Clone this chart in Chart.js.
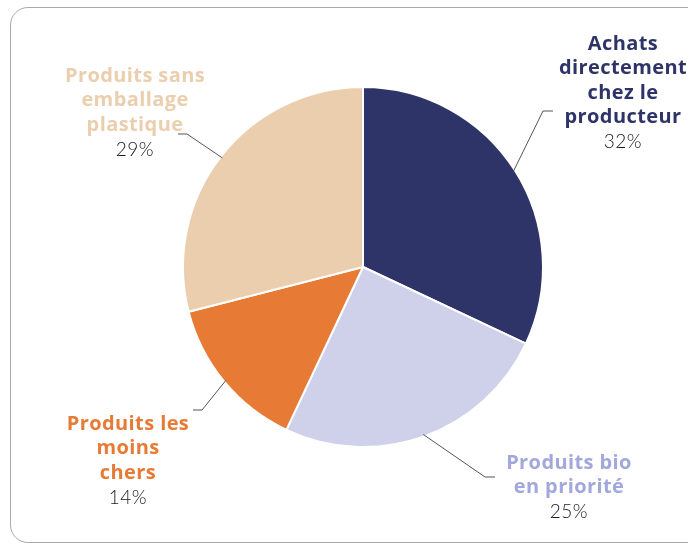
<!DOCTYPE html>
<html>
<head>
<meta charset="utf-8">
<script src="https://cdn.jsdelivr.net/npm/chart.js@4.4.1/dist/chart.umd.min.js"></script>
<style>
  html, body { margin: 0; padding: 0; background: #fff; }
  #wrap { position: relative; width: 688px; height: 545px; overflow: hidden; }
  #card {
    position: absolute; left: 10px; top: 7px; width: 720px; height: 536px;
    border: 1px solid #a9a9a9; border-radius: 18px; box-sizing: border-box;
  }
  canvas { position: absolute; left: 0; top: 0; }
</style>
</head>
<body>
<div id="wrap">
  <div id="card"></div>
  <canvas id="pie" width="688" height="545"></canvas>
</div>
<script>
// données
const categories = [
  ["Achats", "directement", "chez le", "producteur"],
  ["Produits bio", "en priorité"],
  ["Produits les", "moins", "chers"],
  ["Produits sans", "emballage", "plastique"]
];
const valeurs = [32, 25, 14, 29];
const couleurs = ["#2e3468", "#cfd1eb", "#e77b36", "#ebceae"];
const couleursTexte = ["#2e3468", "#a2a7dc", "#e77b36", "#ebceae"];

// emplacement des étiquettes : centre du texte + coude du trait
const etiquettes = [
  { x: 623, y: 44, coude: [543, 111], fin: [553, 111] },
  { x: 569, y: 463, coude: [485, 477], fin: [495, 477] },
  { x: 128, y: 424, coude: [202, 410], fin: [193, 410] },
  { x: 135, y: 76, coude: [187, 134], fin: [178, 134] }
];

const pluginEtiquettes = {
  id: "etiquettes",
  afterDatasetsDraw(chart) {
    const ctx = chart.ctx;
    const arcs = chart.getDatasetMeta(0).data;
    ctx.save();
    arcs.forEach((arc, i) => {
      const e = etiquettes[i];
      const milieu = (arc.startAngle + arc.endAngle) / 2;
      const x0 = arc.x + Math.cos(milieu) * (arc.outerRadius - 2);
      const y0 = arc.y + Math.sin(milieu) * (arc.outerRadius - 2);
      ctx.strokeStyle = "#555";
      ctx.lineWidth = 1;
      ctx.beginPath();
      ctx.moveTo(x0, y0);
      ctx.lineTo(e.coude[0], e.coude[1]);
      ctx.lineTo(e.fin[0], e.fin[1]);
      ctx.stroke();

      ctx.textAlign = "center";
      ctx.textBaseline = "middle";
      ctx.fillStyle = couleursTexte[i];
      ctx.font = "bold 20px 'Open Sans', sans-serif";
      ctx.letterSpacing = "0.4px";
      let y = e.y;
      categories[i].forEach(ligne => {
        ctx.fillText(ligne, e.x, y);
        y += 24.5;
      });
      ctx.fillStyle = "#1a1a1a";
      ctx.font = "300 19px Lato, 'Open Sans', sans-serif";
      ctx.letterSpacing = "0.5px";
      ctx.fillText(valeurs[i] + "%", e.x, y);
    });
    ctx.restore();
  }
};

new Chart(document.getElementById("pie"), {
  type: "pie",
  data: {
    labels: categories.map(c => c.join(" ")),
    datasets: [{
      data: valeurs,
      backgroundColor: couleurs,
      borderColor: "#fff",
      borderWidth: 2
    }]
  },
  options: {
    responsive: false,
    animation: false,
    layout: { padding: { top: 86, bottom: 97, left: 182, right: 144 } },
    plugins: {
      legend: { display: false },
      tooltip: { enabled: false }
    }
  },
  plugins: [pluginEtiquettes]
});
</script>
</body>
</html>
